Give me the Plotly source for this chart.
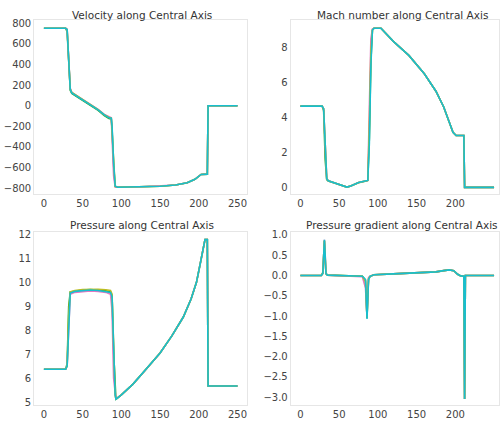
import plotly.graph_objects as go

# ---------------- data ----------------
vel_x = [0, 28, 30, 32, 34, 36, 45, 55, 62, 70, 78, 84, 87, 88, 90, 92, 95, 120, 150, 170, 185, 195, 200, 203, 211, 212, 250]
vel_cyan = [753, 753, 740, 400, 160, 125, 80, 30, 0, -40, -90, -118, -122, -200, -550, -780, -792, -790, -782, -770, -748, -715, -685, -668, -665, 0, 0]
vel_green = [753, 753, 720, 350, 150, 120, 75, 25, -5, -45, -95, -125, -130, -220, -580, -785, -792, -790, -782, -770, -748, -715, -685, -668, -665, 0, 0]
vel_pink = [753, 753, 745, 450, 170, 130, 85, 35, 5, -35, -85, -112, -118, -300, -680, -790, -792, -790, -782, -770, -748, -715, -685, -668, -665, 0, 0]
vel_olive = [753, 753, 740, 420, 165, 128, 82, 32, 2, -38, -88, -115, -120, -250, -620, -785, -792, -790, -782, -770, -748, -715, -685, -668, -665, 0, 0]

mach_x = [0, 28, 30, 32, 34, 36, 45, 55, 60, 65, 75, 85, 87, 89, 91, 93, 95, 104, 120, 140, 150, 160, 175, 185, 192, 197, 201, 211, 212, 250]
mach_cyan = [4.65, 4.65, 4.5, 2.0, 0.5, 0.38, 0.25, 0.08, 0.02, 0.08, 0.28, 0.38, 0.4, 2.5, 7.0, 9.0, 9.1, 9.1, 8.35, 7.55, 7.0, 6.5, 5.5, 4.6, 3.75, 3.15, 2.97, 2.97, 0, 0]
mach_pink = [4.65, 4.65, 4.5, 2.0, 0.5, 0.38, 0.25, 0.08, 0.02, 0.08, 0.28, 0.38, 0.4, 4.5, 8.5, 9.05, 9.1, 9.1, 8.35, 7.55, 7.0, 6.5, 5.5, 4.6, 3.75, 3.15, 2.97, 2.97, 0, 0]
mach_green = [4.65, 4.65, 4.4, 1.6, 0.45, 0.36, 0.24, 0.07, 0.02, 0.08, 0.27, 0.37, 0.4, 2.8, 7.2, 9.0, 9.1, 9.1, 8.35, 7.55, 7.0, 6.5, 5.5, 4.6, 3.75, 3.15, 2.97, 2.97, 0, 0]
mach_olive = [4.65, 4.65, 4.5, 2.0, 0.5, 0.38, 0.25, 0.08, 0.02, 0.08, 0.28, 0.38, 0.4, 3.5, 7.8, 9.0, 9.1, 9.1, 8.35, 7.55, 7.0, 6.5, 5.5, 4.6, 3.75, 3.15, 2.97, 2.97, 0, 0]

pres_x = [0, 28, 30, 32, 34, 40, 50, 60, 70, 80, 86, 88, 90, 92, 93, 100, 115, 130, 150, 165, 180, 190, 197, 202, 206, 208, 211, 212, 250]
pres_cyan = [6.37, 6.37, 6.5, 8.5, 9.55, 9.62, 9.66, 9.68, 9.66, 9.62, 9.58, 9.4, 7.0, 5.3, 5.12, 5.3, 5.75, 6.3, 7.05, 7.75, 8.55, 9.3, 10.0, 10.8, 11.5, 11.78, 11.78, 5.67, 5.67]
pres_olive = [6.37, 6.37, 6.5, 8.6, 9.6, 9.66, 9.7, 9.72, 9.71, 9.69, 9.66, 9.5, 7.2, 5.3, 5.12, 5.3, 5.75, 6.3, 7.05, 7.75, 8.55, 9.3, 10.0, 10.8, 11.5, 11.78, 11.78, 5.67, 5.67]
pres_pink = [6.37, 6.37, 6.5, 8.4, 9.5, 9.58, 9.62, 9.64, 9.62, 9.58, 9.5, 8.8, 6.0, 5.15, 5.12, 5.3, 5.75, 6.3, 7.05, 7.75, 8.55, 9.3, 10.0, 10.8, 11.5, 11.78, 11.78, 5.67, 5.67]
pres_green = [6.37, 6.37, 6.6, 9.0, 9.6, 9.64, 9.68, 9.7, 9.68, 9.64, 9.6, 9.45, 7.1, 5.3, 5.12, 5.3, 5.75, 6.3, 7.05, 7.75, 8.55, 9.3, 10.0, 10.8, 11.5, 11.78, 11.78, 5.67, 5.67]

grad_x = [0, 27, 29, 30, 31, 32, 33, 35, 50, 80, 84, 85, 86, 87, 88, 90, 95, 120, 150, 175, 185, 192, 198, 203, 207, 211, 212, 213, 250]
grad_cyan = [0, 0, 0.05, 0.45, 0.88, 0.5, 0.05, 0.01, 0, -0.02, -0.1, -0.6, -1.07, -0.6, -0.1, -0.02, 0.02, 0.04, 0.06, 0.09, 0.12, 0.14, 0.12, 0.03, -0.01, -0.02, -3.05, 0, 0]
grad_pink = [0, 0, 0.05, 0.45, 0.88, 0.5, 0.05, 0.01, 0, -0.03, -0.3, -0.9, -1.0, -0.4, -0.05, -0.02, 0.02, 0.04, 0.06, 0.09, 0.12, 0.14, 0.12, 0.03, -0.01, -0.02, -3.05, 0, 0]
grad_green = [0, 0, 0.08, 0.6, 0.85, 0.4, 0.04, 0.01, 0, -0.02, -0.12, -0.65, -1.05, -0.55, -0.08, -0.02, 0.02, 0.04, 0.06, 0.09, 0.12, 0.14, 0.12, 0.03, -0.01, -0.02, -3.05, 0, 0]
grad_olive = [0, 0, 0.05, 0.5, 0.86, 0.45, 0.05, 0.01, 0, -0.02, -0.15, -0.7, -1.04, -0.5, -0.08, -0.02, 0.02, 0.04, 0.06, 0.09, 0.12, 0.14, 0.12, 0.03, -0.01, -0.02, -3.05, 0, 0]

titles = ["Velocity along Central Axis", "Mach number along Central Axis",
          "Pressure along Central Axis", "Pressure gradient along Central Axis"]
x_ticks = [0, 50, 100, 150, 200, 250]
vel_ticks = [800, 600, 400, 200, 0, -200, -400, -600, -800]
mach_ticks = [0, 2, 4, 6, 8]
pres_ticks = [5, 6, 7, 8, 9, 10, 11, 12]
grad_ticks = [1.0, 0.5, 0.0, -0.5, -1.0, -1.5, -2.0, -2.5, -3.0]

series_colors = {"green": "#2ca02c", "pink": "#e377c2", "olive": "#bcbd22", "cyan": "#17becf"}

# ---------------- figure ----------------
W, H = 500, 421
fig = go.Figure()

panels = [
    (vel_x, {"green": vel_green, "pink": vel_pink, "olive": vel_olive, "cyan": vel_cyan}, "x", "y"),
    (mach_x, {"green": mach_green, "pink": mach_pink, "olive": mach_olive, "cyan": mach_cyan}, "x2", "y2"),
    (pres_x, {"green": pres_green, "pink": pres_pink, "olive": pres_olive, "cyan": pres_cyan}, "x3", "y3"),
    (grad_x, {"green": grad_green, "pink": grad_pink, "olive": grad_olive, "cyan": grad_cyan}, "x4", "y4"),
]
for xs, ser, xa, ya in panels:
    for name in ["green", "pink", "olive", "cyan"]:
        fig.add_trace(go.Scatter(x=xs, y=ser[name], mode="lines", xaxis=xa, yaxis=ya,
                                 line=dict(color=series_colors[name], width=1.6),
                                 showlegend=False, hoverinfo="skip"))

def px_x(a, b):
    return [a / W, b / W]

def px_y(top, bottom):
    return [1 - bottom / H, 1 - top / H]

font = dict(family="DejaVu Sans, sans-serif", size=10, color="#444")
axis_common = dict(showgrid=False, zeroline=False, showline=True, mirror=True,
                   linecolor="#e6e6e6", linewidth=1, ticks="", tickfont=font)

left_dom = px_x(34.3, 247.7)
right_dom = px_x(291.3, 500)
top_dom = px_y(17.5, 193)
bot_dom = px_y(231.5, 407)

fig.update_layout(
    width=W, height=H, margin=dict(l=0, r=0, t=0, b=0),
    paper_bgcolor="white", plot_bgcolor="white",
    xaxis=dict(domain=left_dom, range=[-12.5, 262.5], tickvals=x_ticks, anchor="y", **axis_common),
    yaxis=dict(domain=top_dom, range=[-855, 830], tickvals=vel_ticks, anchor="x", **axis_common),
    xaxis2=dict(domain=right_dom, range=[-12.5, 256.4], tickvals=x_ticks, anchor="y2", **axis_common),
    yaxis2=dict(domain=top_dom, range=[-0.36, 9.555], tickvals=mach_ticks, anchor="x2", **axis_common),
    xaxis3=dict(domain=left_dom, range=[-12.5, 262.5], tickvals=x_ticks, anchor="y3", **axis_common),
    yaxis3=dict(domain=bot_dom, range=[4.87, 12.11], tickvals=pres_ticks, anchor="x3", **axis_common),
    xaxis4=dict(domain=right_dom, range=[-12.5, 256.4], tickvals=x_ticks, anchor="y4", **axis_common),
    yaxis4=dict(domain=bot_dom, range=[-3.2, 1.08], tickvals=grad_ticks, anchor="x4",
                tickformat=".1f", **axis_common),
)

title_pos = [(142, 12), (403, 12), (142, 225), (403, 225)]
for t, (cx, cy) in zip(titles, title_pos):
    fig.add_annotation(text=t, x=cx / W, y=1 - cy / H, xref="paper", yref="paper",
                       showarrow=False, xanchor="center", yanchor="middle",
                       font=dict(family="DejaVu Sans, sans-serif", size=10.5, color="#333"))

fig.write_html("out.html", config={"displayModeBar": False},
               post_script="document.body.style.margin='0px';document.body.style.overflow='hidden';")
